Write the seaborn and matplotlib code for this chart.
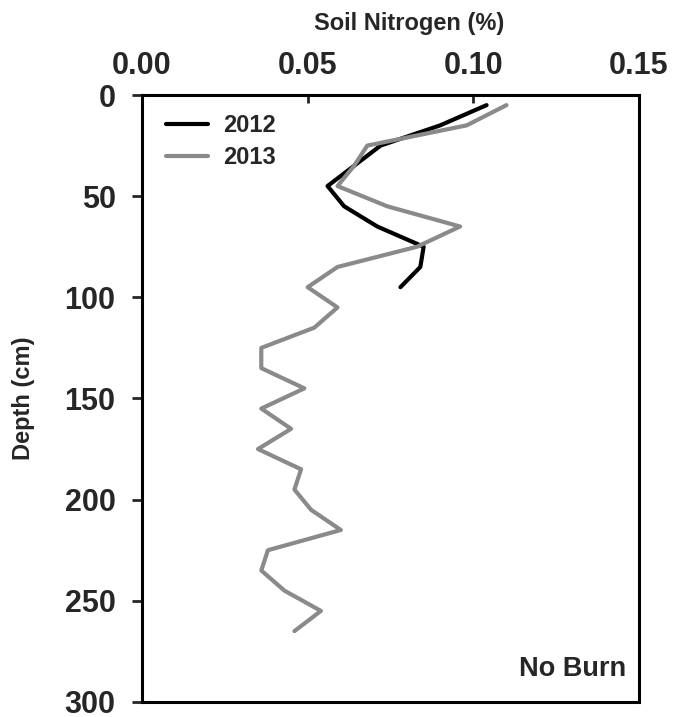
import matplotlib
matplotlib.use("Agg")
import matplotlib.pyplot as plt
import seaborn as sns
import pandas as pd

# Soil nitrogen profiles, No Burn treatment
depth_2012 = [5, 15, 25, 35, 45, 55, 65, 75, 85, 95]
nitrogen_2012 = [0.104, 0.090, 0.072, 0.064, 0.056, 0.061, 0.071, 0.085, 0.084, 0.078]

depth_2013 = [5, 15, 25, 35, 45, 55, 65, 75, 85, 95, 105, 115, 125, 135, 145,
              155, 165, 175, 185, 195, 205, 215, 225, 235, 245, 255, 265]
nitrogen_2013 = [0.110, 0.098, 0.068, 0.064, 0.059, 0.074, 0.096, 0.083, 0.059,
                 0.050, 0.059, 0.052, 0.036, 0.036, 0.049, 0.036, 0.045, 0.035,
                 0.048, 0.046, 0.051, 0.060, 0.038, 0.036, 0.043, 0.054, 0.046]

x_ticks = [0.00, 0.05, 0.10, 0.15]
y_ticks = [0, 50, 100, 150, 200, 250, 300]

df = pd.concat([
    pd.DataFrame({"Depth": depth_2012, "N": nitrogen_2012, "Year": "2012"}),
    pd.DataFrame({"Depth": depth_2013, "N": nitrogen_2013, "Year": "2013"}),
])

sns.set_style("white")
plt.rcParams["font.family"] = ["Liberation Sans", "DejaVu Sans"]

fig = plt.figure(figsize=(6.73, 7.17), dpi=100)
ax = fig.add_axes([0.211, 0.021, 0.7385, 0.8465])

sns.lineplot(data=df, x="N", y="Depth", hue="Year", orient="y", sort=False,
             estimator=None, palette={"2012": "#000000", "2013": "#8a8a8a"},
             linewidth=3.0, ax=ax)

ax.set_xlim(0, 0.15)
ax.set_ylim(300, 0)
ax.xaxis.tick_top()
ax.xaxis.set_label_position("top")
ax.set_xticks(x_ticks)
ax.set_xticklabels([f"{v:.2f}" for v in x_ticks])
ax.set_yticks(y_ticks)
ax.set_yticklabels([str(v) for v in y_ticks])

for s in ax.spines.values():
    s.set_visible(True)
    s.set_color("black")
    s.set_linewidth(2.2)

ax.tick_params(axis="x", direction="in", length=6, width=2, pad=10,
               labelsize=22, top=True, bottom=False)
ax.tick_params(axis="y", direction="out", length=7, width=2, pad=12,
               labelsize=22, left=True)
for lab in ax.get_xticklabels() + ax.get_yticklabels():
    lab.set_fontweight("bold")

ax.set_xlabel("Soil Nitrogen (%)", fontsize=17, fontweight="bold")
ax.set_ylabel("Depth (cm)", fontsize=17, fontweight="bold")
ax.xaxis.set_label_coords(0.537, 1.107)
ax.yaxis.set_label_coords(-0.215, 0.5)

leg = ax.legend(loc="upper left", frameon=False, fontsize=17,
                handlelength=1.78, handletextpad=0.64, labelspacing=0.36,
                bbox_to_anchor=(0.048, 0.968), borderaxespad=0.0, borderpad=0.0)
for t in leg.get_texts():
    t.set_fontweight("bold")
for h in leg.get_lines():
    h.set_linewidth(3.0)

ax.text(0.975, 0.055, "No Burn", transform=ax.transAxes, ha="right",
        va="center", fontsize=19.5, fontweight="bold")

fig.savefig("out.png", dpi=100)
